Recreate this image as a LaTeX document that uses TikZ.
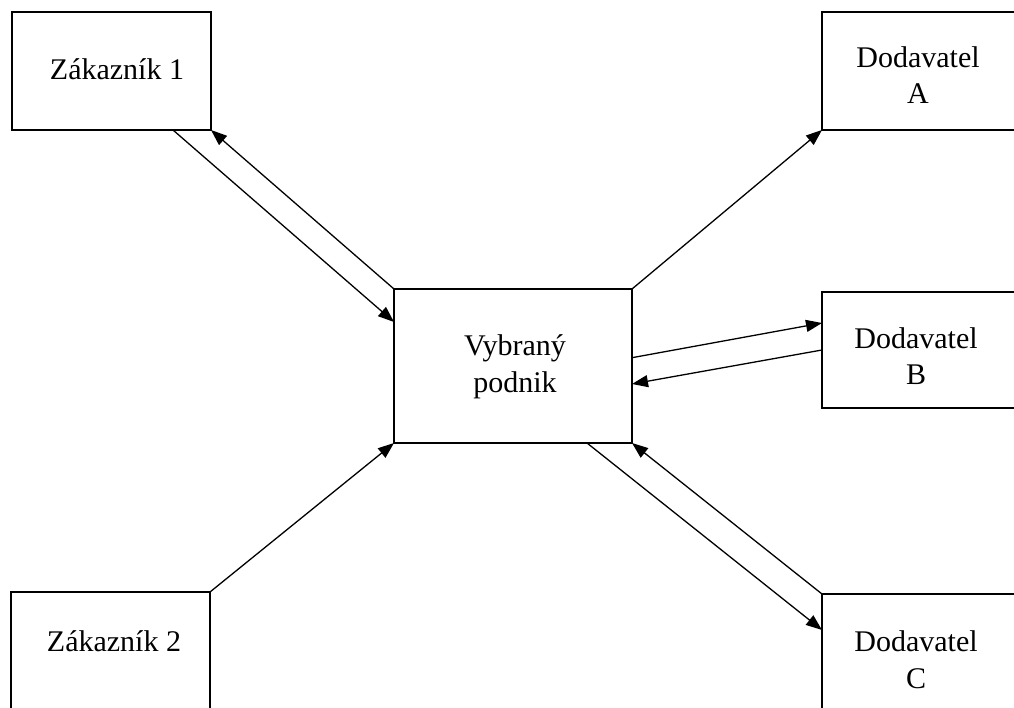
\documentclass[tikz,border=0pt]{standalone}
\usepackage{fontspec}
\setmainfont{Liberation Serif}
\usetikzlibrary{arrows.meta}
\begin{document}
\begin{tikzpicture}[x=1pt,y=-1pt,
  box/.style={draw, line width=1.6pt, rectangle, outer sep=0pt, inner sep=0pt},
  lbl/.style={font=\fontsize{30}{36.7}\selectfont, align=center, inner sep=0pt},
  conn/.style={line width=1.3pt, -{Triangle[length=16pt,width=12pt]}}]
\useasboundingbox (0,0) rectangle (1014,708);
\clip (0,0) rectangle (1014,708);
% boxes
\node[box, minimum width=199pt, minimum height=118pt] (z1) at (111.5,71) {};
\node[box, minimum width=260pt, minimum height=118pt] (da) at (952,71) {};
\node[box, minimum width=238pt, minimum height=154pt] (v) at (513,366) {};
\node[box, minimum width=260pt, minimum height=116pt] (db) at (952,350) {};
\node[box, minimum width=199pt, minimum height=118pt] (z2) at (110.5,651) {};
\node[box, minimum width=260pt, minimum height=118pt] (dc) at (952,653) {};
% labels
\node[lbl, anchor=base] (tz1) at (117,80) {Zákazník 1};
\node[lbl, anchor=base] (tz2) at (114,651.7) {Zákazník 2};
\node[lbl] (tda) at (918,75) {Dodavatel\\A};
\node[lbl] (tdb) at (916,356) {Dodavatel\\B};
\node[lbl] (tdc) at (916,660) {Dodavatel\\C};
\node[lbl] (tv) at (515,367) {Vybraný\\podnik};
% connectors
\draw[conn] ([xshift=61.5pt]z1.south) -- ([yshift=44pt]v.west);
\draw[conn] (v.north west) -- (z1.south east);
\draw[conn] (v.north east) -- (da.south west);
\draw[conn] ([yshift=8.3pt]v.east) -- ([yshift=27pt]db.west);
\draw[conn] (db.west) -- ([yshift=-18pt]v.east);
\draw[conn] (z2.north east) -- (v.south west);
\draw[conn] ([xshift=74pt]v.south) -- ([yshift=23pt]dc.west);
\draw[conn] (dc.north west) -- (v.south east);
\end{tikzpicture}
\end{document}
